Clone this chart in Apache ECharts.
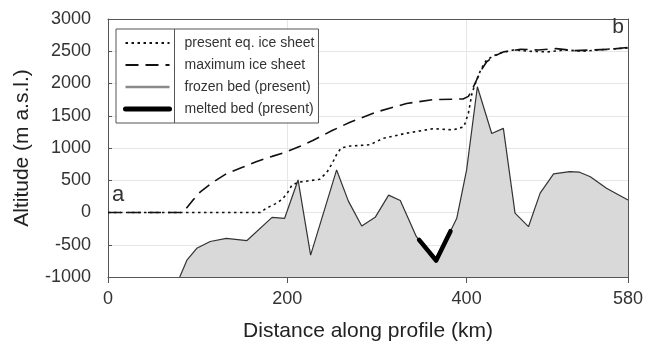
<!DOCTYPE html>
<html>
<head>
<meta charset="utf-8">
<script src="https://cdn.jsdelivr.net/npm/echarts@6/dist/echarts.min.js"></script>
<style>
html,body{margin:0;padding:0;background:#fff;}
#c{width:645px;height:345px;}
</style>
</head>
<body>
<div id="c"></div>
<script>
// ---- data (km along profile, altitude m a.s.l.) ----
var bedKm  = [80, 88, 99, 114, 132, 155, 183, 197, 212, 226, 255, 268, 283, 298, 313, 326, 344, 366, 389, 400, 412, 428, 441, 454, 469, 482, 497, 515, 526, 538, 556, 580];
var bedAlt = [-1000, -740, -555, -450, -400, -435, -75, -90, 505, -660, 660, 180, -210, -75, 270, 185, -375, -745, -90, 660, 1950, 1225, 1305, -10, -220, 300, 600, 635, 625, 555, 375, 195];

var meltKm  = [347, 366, 382];
var meltAlt = [-425, -745, -290];

var presKm  = [0, 170, 177, 186, 194, 200, 205, 212, 218, 236, 244, 250, 255, 260, 270, 292, 307, 333, 363, 385, 397, 402, 406, 411, 416, 422, 430, 437, 452, 470, 490, 510, 530, 555, 580];
var presAlt = [0, 0, 70, 130, 200, 300, 420, 470, 480, 515, 620, 760, 900, 1000, 1030, 1050, 1150, 1230, 1300, 1280, 1330, 1540, 1850, 2050, 2220, 2360, 2430, 2470, 2520, 2500, 2490, 2520, 2500, 2530, 2550];

var maxKm  = [0, 82, 86, 94, 103, 117, 132, 150, 166, 183, 199, 215, 229, 250, 270, 300, 333, 363, 396, 402, 406, 411, 416, 422, 430, 441, 460, 480, 500, 520, 540, 560, 580];
var maxAlt = [0, 0, 40, 180, 320, 470, 600, 700, 790, 870, 940, 1030, 1120, 1270, 1400, 1560, 1690, 1750, 1760, 1800, 1900, 2050, 2200, 2330, 2420, 2490, 2530, 2520, 2540, 2510, 2520, 2530, 2560];

var xTicks = [0, 200, 400, 580];
var seriesNames = ['present eq. ice sheet', 'maximum ice sheet', 'frozen bed (present)', 'melted bed (present)'];

function zip(a, b) { return a.map(function (v, i) { return [v, b[i]]; }); }
function plain(v) { return String(v); }

var FONT = 'Liberation Sans, Arial, Helvetica, sans-serif';
var chart = echarts.init(document.getElementById('c'), null, {renderer: 'canvas'});

var yBase = {type: 'value', min: -1000, max: 3000, interval: 500};
var xBase = {type: 'value', min: 0, max: 580, interval: 200};

chart.setOption({
  animation: false,
  backgroundColor: '#fff',
  textStyle: {fontFamily: FONT},
  grid: {left: 108, right: 17, top: 19, bottom: 68, containLabel: false, outerBoundsMode: 'none'},
  xAxis: [
    Object.assign({}, xBase, {
      position: 'bottom', z: 10,
      axisLine: {show: true, onZero: false, lineStyle: {color: '#555', width: 1}},
      axisTick: {show: true, inside: false, length: 6, lineStyle: {color: '#555'}, customValues: xTicks},
      axisLabel: {fontSize: 18, color: '#333', margin: 13, fontFamily: FONT, customValues: xTicks, formatter: plain},
      splitLine: {show: false},
      name: 'Distance along profile (km)', nameLocation: 'middle', nameGap: 44,
      nameTextStyle: {fontSize: 21, color: '#222', fontFamily: FONT}
    }),
    Object.assign({}, xBase, {
      position: 'top', z: 0,
      axisLine: {show: true, onZero: false, lineStyle: {color: '#555', width: 1}},
      axisTick: {show: false}, axisLabel: {show: false},
      splitLine: {show: true, lineStyle: {color: '#e6e6e6', width: 1}}
    })
  ],
  yAxis: [
    Object.assign({}, yBase, {
      position: 'left', z: 0,
      axisLine: {show: true, onZero: false, lineStyle: {color: '#555', width: 1}},
      axisTick: {show: true, inside: true, length: 4, lineStyle: {color: '#555'}},
      axisLabel: {fontSize: 18, color: '#333', margin: 17, fontFamily: FONT, formatter: plain},
      splitLine: {show: true, lineStyle: {color: '#e6e6e6', width: 1}},
      name: 'Altitude (m a.s.l.)', nameLocation: 'middle', nameGap: 75,
      nameTextStyle: {fontSize: 21, color: '#222', fontFamily: FONT}
    }),
    Object.assign({}, yBase, {
      position: 'right', z: 10,
      axisLine: {show: true, onZero: false, lineStyle: {color: '#555', width: 1}},
      axisTick: {show: false}, axisLabel: {show: false}, splitLine: {show: false}
    })
  ],
  legend: {
    orient: 'vertical', left: 116, top: 29,
    padding: [7, 4, 7, 7],
    itemWidth: 44, itemHeight: 14, itemGap: 8,
    backgroundColor: '#fff', borderColor: '#555', borderWidth: 1, borderRadius: 0,
    itemStyle: {opacity: 0},
    textStyle: {fontSize: 14, color: '#333', fontFamily: FONT, padding: [0, 0, 0, 10]},
    selectedMode: false,
    data: [
      {name: seriesNames[0], lineStyle: {color: '#111', width: 1.8}},
      {name: seriesNames[1], lineStyle: {color: '#111', width: 1.8}},
      {name: seriesNames[2], lineStyle: {color: '#8a8a8a', width: 2.5}},
      {name: seriesNames[3], lineStyle: {color: '#000', width: 5}}
    ]
  },
  graphic: [
    {type: 'line', z: 100, shape: {x1: 174.5, y1: 29, x2: 174.5, y2: 123}, style: {stroke: '#555', lineWidth: 1}},
    {type: 'text', z: 100, left: 112, top: 184, style: {text: 'a', fontSize: 22, fill: '#333', fontFamily: FONT}},
    {type: 'text', z: 100, right: 21, top: 17, style: {text: 'b', fontSize: 21, fill: '#333', fontFamily: FONT}}
  ],
  series: [
    {
      name: seriesNames[2], type: 'line', data: zip(bedKm, bedAlt),
      symbol: 'none', smooth: false, z: 2,
      lineStyle: {color: '#333', width: 1.2},
      areaStyle: {color: '#d9d9d9', opacity: 1, origin: 'start'}
    },
    {
      name: seriesNames[3], type: 'line', data: zip(meltKm, meltAlt),
      symbol: 'none', z: 3,
      lineStyle: {color: '#000', width: 4.5, cap: 'round', join: 'round'}
    },
    {
      name: seriesNames[0], type: 'line', data: zip(presKm, presAlt),
      symbol: 'none', z: 4,
      lineStyle: {color: '#111', width: 1.6, type: [2.5, 3.5]}
    },
    {
      name: seriesNames[1], type: 'line', data: zip(maxKm, maxAlt),
      symbol: 'none', z: 4,
      lineStyle: {color: '#111', width: 1.6, type: [13, 7]}
    }
  ]
});
</script>
</body>
</html>
